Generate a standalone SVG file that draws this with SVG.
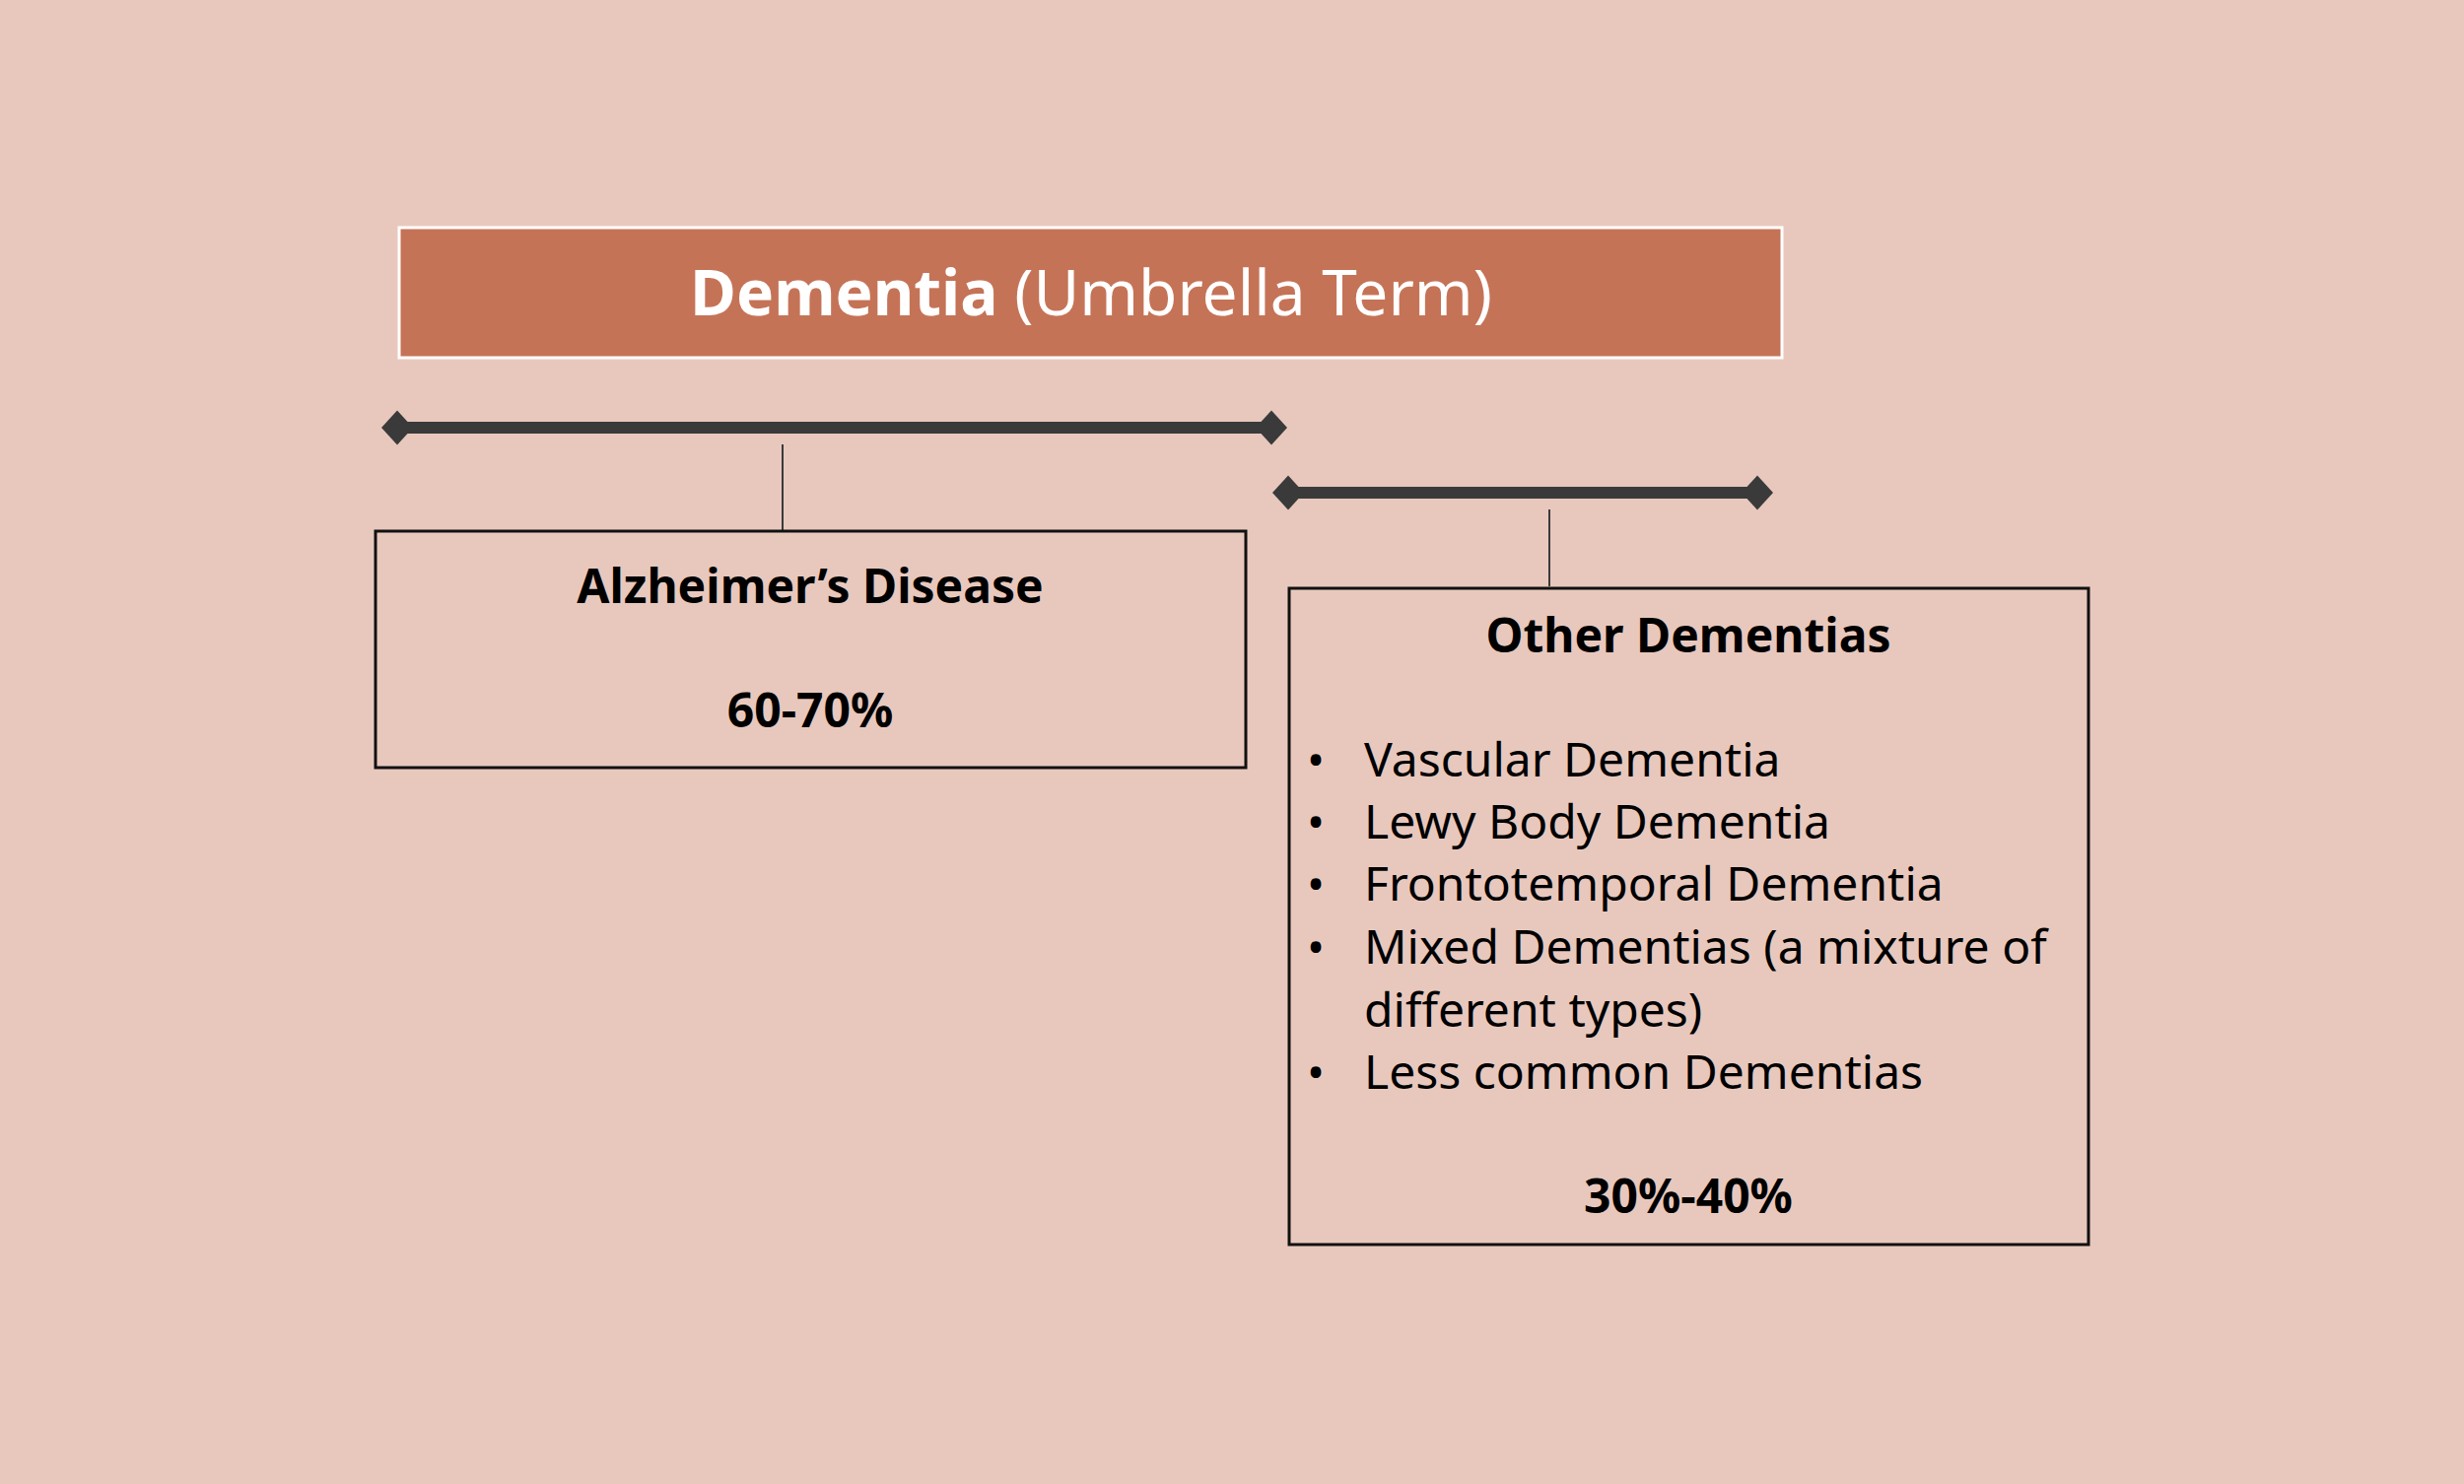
<svg xmlns="http://www.w3.org/2000/svg" width="2500" height="1506" viewBox="0 0 2500 1506">
<defs>
<style>
.t{font-family:"Noto Sans","Open Sans","Liberation Sans",sans-serif;fill:#000}
.b{font-weight:bold}
.c{text-anchor:middle}
.box{fill:none;stroke:#111;stroke-width:3}
.bar{stroke:#3a3a3a;stroke-width:12;fill:none}
.stem{stroke:#3a3a3a;stroke-width:2}
</style>
<marker id="dia" viewBox="-18 -18 36 36" refX="0" refY="0" markerWidth="36" markerHeight="36" markerUnits="userSpaceOnUse" orient="auto">
<path d="M0,-17.5 L16,0 L0,17.5 L-16,0 Z" fill="#3a3a3a"/>
</marker>
</defs>
<rect width="2500" height="1506" fill="#E8C8BD"/>
<g id="title">
<rect x="405" y="231" width="1403" height="132" fill="#C57357" stroke="#fff" stroke-width="3"/>
<text class="t c" x="1107" y="320" font-size="64" style="fill:#fff"><tspan class="b">Dementia</tspan> (Umbrella Term)</text>
</g>
<g id="connectors">
<line class="bar" x1="403" y1="434" x2="1290" y2="434" marker-start="url(#dia)" marker-end="url(#dia)"/>
<line class="bar" x1="1307" y1="500" x2="1783" y2="500" marker-start="url(#dia)" marker-end="url(#dia)"/>
<line class="stem" x1="794" y1="451" x2="794" y2="538"/>
<line class="stem" x1="1572" y1="517" x2="1572" y2="595"/>
</g>
<g id="alzheimers">
<rect class="box" x="381" y="539" width="883" height="240"/>
<text class="t b c" x="822" y="612" font-size="48">Alzheimer’s Disease</text>
<text class="t b c" x="822" y="738" font-size="48">60-70%</text>
</g>
<g id="other">
<rect class="box" x="1308" y="597" width="811" height="666"/>
<text class="t b c" x="1713" y="662" font-size="48">Other Dementias</text>
<g class="t" font-size="48">
<text x="1335" y="788" class="c">•</text><text x="1384" y="788">Vascular Dementia</text>
<text x="1335" y="851" class="c">•</text><text x="1384" y="851">Lewy Body Dementia</text>
<text x="1335" y="914" class="c">•</text><text x="1384" y="914">Frontotemporal Dementia</text>
<text x="1335" y="978" class="c">•</text><text x="1384" y="978">Mixed Dementias (a mixture of</text>
<text x="1384" y="1042">different types)</text>
<text x="1335" y="1105" class="c">•</text><text x="1384" y="1105">Less common Dementias</text>
</g>
<text class="t b c" x="1713" y="1231" font-size="48">30%-40%</text>
</g>
</svg>
